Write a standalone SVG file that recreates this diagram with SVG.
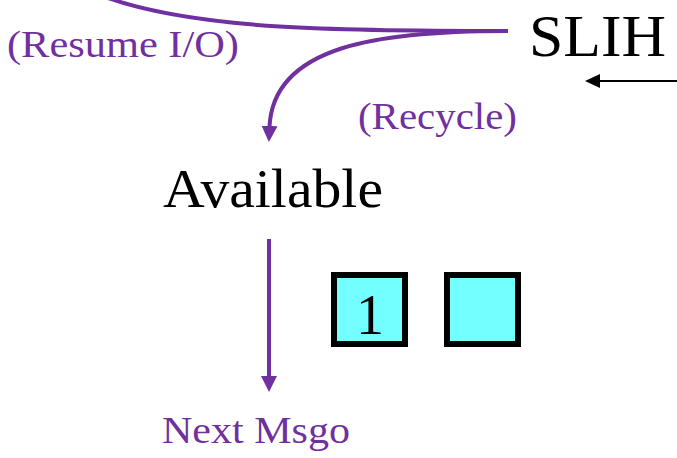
<svg xmlns="http://www.w3.org/2000/svg" width="677" height="458" viewBox="0 0 677 458">
<style>
.t{font-family:"Liberation Serif","Times New Roman",serif;}
.p{fill:#7030A0;}
.k{fill:#000;}
.c{fill:none;stroke:#7030A0;stroke-width:4;}
.box{fill:#73FFFF;stroke:#000;stroke-width:6;}
</style>
<defs>
<marker id="ap" markerUnits="userSpaceOnUse" markerWidth="17" markerHeight="16" refX="1" refY="8" orient="auto">
<path d="M0,0 L16,8 L0,16 Z" fill="#7030A0"/>
</marker>
<marker id="ak" markerUnits="userSpaceOnUse" markerWidth="17" markerHeight="16" refX="1" refY="7" orient="auto">
<path d="M0,0 L15,7 L0,14 Z" fill="#000"/>
</marker>
</defs>
<rect width="677" height="458" fill="#fff"/>
<g id="connectors">
<path class="c" d="M108,-2 C200,30 340,31 508,31"/>
<path class="c" d="M508,31 C380,31 273,45 269.5,127" marker-end="url(#ap)"/>
<path class="c" d="M269,239 L269,377" marker-end="url(#ap)"/>
<path d="M677,81 L599,81" stroke="#000" stroke-width="2" fill="none" marker-end="url(#ak)"/>
</g>
<g id="slih"><text class="t k" x="529" y="56" font-size="60" textLength="137" lengthAdjust="spacingAndGlyphs">SLIH</text></g>
<g id="resume"><text class="t p" x="7" y="57" font-size="38" textLength="232" lengthAdjust="spacingAndGlyphs">(Resume I/O)</text></g>
<g id="recycle"><text class="t p" x="358" y="129" font-size="37" textLength="159" lengthAdjust="spacingAndGlyphs">(Recycle)</text></g>
<g id="available"><text class="t k" x="163" y="207" font-size="54" textLength="220" lengthAdjust="spacingAndGlyphs">Available</text></g>
<g id="nextmsgo"><text class="t p" x="162" y="443" font-size="38" textLength="188" lengthAdjust="spacingAndGlyphs">Next Msgo</text></g>
<g id="box1"><rect class="box" x="334" y="275" width="71" height="69"/><text class="t k" x="370" y="334" font-size="56" text-anchor="middle">1</text></g>
<g id="box2"><rect class="box" x="447" y="275" width="71" height="69"/></g>
</svg>
